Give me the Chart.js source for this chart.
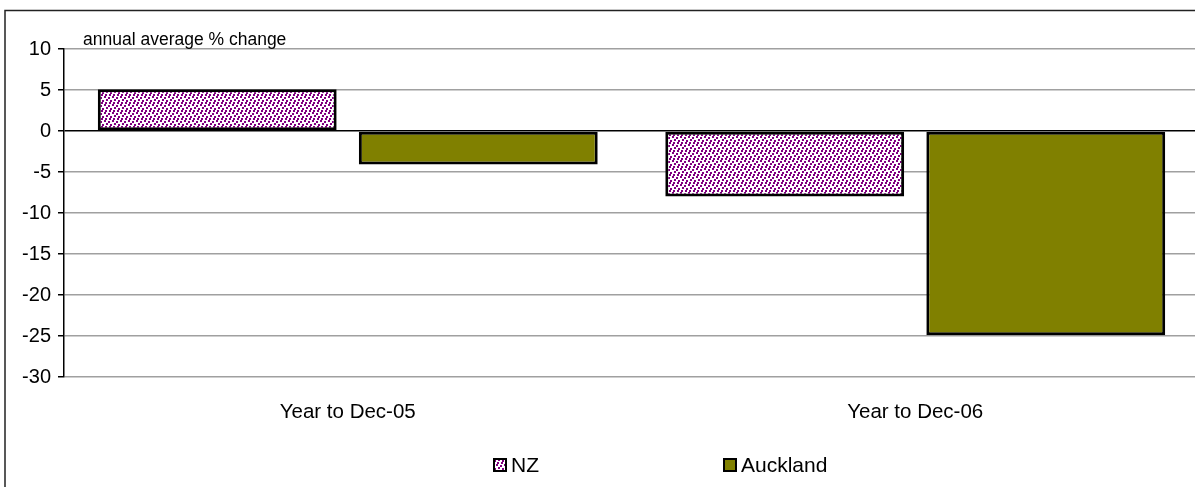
<!DOCTYPE html>
<html>
<head>
<meta charset="utf-8">
<script src="https://cdn.jsdelivr.net/npm/chart.js@4.4.1/dist/chart.umd.min.js"></script>
<style>
  html, body { margin: 0; padding: 0; background: #fff; overflow: hidden; }
  #wrap { width: 1200px; height: 487px; }
</style>
</head>
<body>
<div id="wrap"><canvas id="chart" width="1200" height="487"></canvas></div>
<script>
// ====================
// data
// ====================
const categories = ["Year to Dec-05", "Year to Dec-06"];
const nzValues = [5.1, -8.0];
const aucklandValues = [-4.1, -24.9];
const seriesNames = ["NZ", "Auckland"];
const yTicks = [10, 5, 0, -5, -10, -15, -20, -25, -30];
const axisNote = "annual average % change";

const FONT = "'Liberation Sans', Arial, sans-serif";

// ====================
// purple confetti pattern
// ====================
function makeConfetti() {
    const c = document.createElement("canvas");
    c.width = 8; c.height = 8;
    const g = c.getContext("2d");
    g.fillStyle = "#fff";
    g.fillRect(0, 0, 8, 8);
    g.fillStyle = "#800080";
    [[0,0],[4,1],[2,3],[6,4],[1,6],[5,6]].forEach(p => g.fillRect(p[0], p[1], 2, 2));
    return g.createPattern(c, "repeat");
}
const ctx = document.getElementById("chart").getContext("2d");
const confetti = makeConfetti();
const olive = "#808000";

// ====================
// frame, note, legend
// ====================
const extras = {
    id: "extras",
    afterDraw(chart) {
        const c = chart.ctx;
        c.save();
        c.strokeStyle = "#222";
        c.lineWidth = 1.5;
        c.strokeRect(5, 10.5, 1220, 500);

        c.fillStyle = "#000";
        c.font = "17.5px " + FONT;
        c.textBaseline = "alphabetic";
        c.fillText(axisNote, 83, 45);

        // legend
        const items = [
            { x: 493, fill: confetti, label: seriesNames[0] },
            { x: 723, fill: olive, label: seriesNames[1] }
        ];
        c.font = "21px " + FONT;
        c.textBaseline = "middle";
        items.forEach(it => {
            c.fillStyle = it.fill;
            c.fillRect(it.x, 458, 14, 14);
            c.strokeStyle = "#000";
            c.lineWidth = 2;
            c.strokeRect(it.x + 1, 459, 12, 12);
            c.fillStyle = "#000";
            c.fillText(it.label, it.x + 18, 466);
        });
        c.restore();
    }
};

new Chart(ctx, {
    type: "bar",
    data: {
        labels: categories,
        datasets: [
            { label: seriesNames[0], data: nzValues, backgroundColor: confetti, borderColor: "#000", borderWidth: 3, borderSkipped: false },
            { label: seriesNames[1], data: aucklandValues, backgroundColor: olive, borderColor: "#000", borderWidth: 3, borderSkipped: false }
        ]
    },
    options: {
        responsive: false,
        animation: false,
        categoryPercentage: 0.92,
        barPercentage: 0.915,
        layout: { padding: { top: 49, left: 0, right: 1, bottom: 0 } },
        plugins: { legend: { display: false }, tooltip: { enabled: false } },
        scales: {
            x: {
                grid: { display: false },
                border: { display: false },
                ticks: { color: "#000", font: { family: FONT, size: 20.5 }, padding: 15 },
                afterFit: s => { s.height = 110; }
            },
            y: {
                min: -30, max: 10,
                afterBuildTicks: s => { s.ticks = yTicks.map(v => ({ value: v })); },
                grid: {
                    color: c => c.tick && c.tick.value === 0 ? "#000" : "#a0a0a0",
                    lineWidth: 1.5,
                    tickColor: "#000",
                    tickLength: 6
                },
                border: { color: "#000", width: 1.5 },
                ticks: { color: "#000", font: { family: FONT, size: 20 }, padding: 7 },
                afterFit: s => { s.width = 64; }
            }
        }
    },
    plugins: [extras]
});
</script>
</body>
</html>
